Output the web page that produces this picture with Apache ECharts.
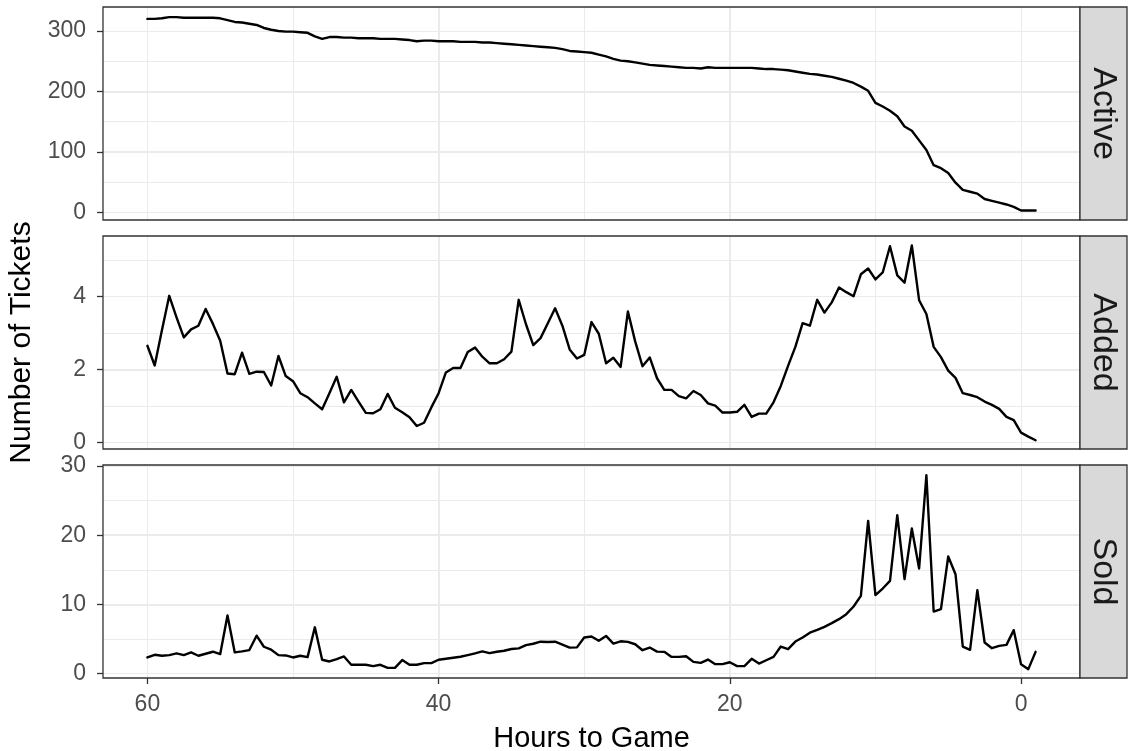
<!DOCTYPE html>
<html>
<head>
<meta charset="utf-8">
<title>Tickets by hours to game</title>
<script src="https://cdn.jsdelivr.net/npm/echarts@6.0.0/dist/echarts.min.js"></script>
<style>
  html, body { margin: 0; padding: 0; background: #ffffff; }
  #chart { width: 1129px; height: 751px; }
</style>
</head>
<body>
<div id="chart"></div>
<script>
// Half-hour snapshots, counted down to kick-off (negative = after start)
const hours = [
  60, 59.5, 59, 58.5, 58, 57.5, 57, 56.5, 56, 55.5,
  55, 54.5, 54, 53.5, 53, 52.5, 52, 51.5, 51, 50.5,
  50, 49.5, 49, 48.5, 48, 47.5, 47, 46.5, 46, 45.5,
  45, 44.5, 44, 43.5, 43, 42.5, 42, 41.5, 41, 40.5,
  40, 39.5, 39, 38.5, 38, 37.5, 37, 36.5, 36, 35.5,
  35, 34.5, 34, 33.5, 33, 32.5, 32, 31.5, 31, 30.5,
  30, 29.5, 29, 28.5, 28, 27.5, 27, 26.5, 26, 25.5,
  25, 24.5, 24, 23.5, 23, 22.5, 22, 21.5, 21, 20.5,
  20, 19.5, 19, 18.5, 18, 17.5, 17, 16.5, 16, 15.5,
  15, 14.5, 14, 13.5, 13, 12.5, 12, 11.5, 11, 10.5,
  10, 9.5, 9, 8.5, 8, 7.5, 7, 6.5, 6, 5.5,
  5, 4.5, 4, 3.5, 3, 2.5, 2, 1.5, 1, 0.5,
  0, -0.5, -1
];

// Tickets listed at each snapshot
const active = [
  320, 320, 321, 323, 323, 322, 322, 322, 322, 322,
  321, 318, 315, 314, 312, 310, 305, 302, 300, 299,
  299, 298, 297, 291, 287, 290, 290, 289, 289, 288,
  288, 288, 287, 287, 287, 286, 285, 283, 284, 284,
  283, 283, 283, 282, 282, 282, 281, 281, 280, 279,
  278, 277, 276, 275, 274, 273, 272, 270, 267, 266,
  265, 264, 261, 258, 254, 251, 250, 248, 246, 244,
  243, 242, 241, 240, 239, 239, 238, 240, 239, 239,
  239, 239, 239, 239, 238, 237, 237, 236, 235, 233,
  231, 229, 228, 226, 224, 221, 218, 214, 208, 201,
  181, 175, 168, 159, 142, 135, 119, 103, 78, 73,
  65, 49, 37, 34, 31, 22, 19, 16, 13, 9,
  3, 3, 3
];

// Newly listed tickets
const added = [
  2.65, 2.11, 3.08, 4.02, 3.43, 2.88, 3.10, 3.20, 3.66, 3.25,
  2.79, 1.89, 1.87, 2.46, 1.88, 1.94, 1.93, 1.56, 2.37, 1.82,
  1.68, 1.35, 1.24, 1.07, 0.91, 1.35, 1.80, 1.10, 1.44, 1.12,
  0.81, 0.80, 0.91, 1.33, 0.95, 0.83, 0.69, 0.45, 0.54, 0.96,
  1.35, 1.92, 2.04, 2.04, 2.48, 2.60, 2.35, 2.17, 2.17, 2.28,
  2.49, 3.91, 3.24, 2.67, 2.86, 3.27, 3.68, 3.20, 2.55, 2.30,
  2.40, 3.30, 2.98, 2.17, 2.32, 2.07, 3.59, 2.77, 2.09, 2.33,
  1.76, 1.44, 1.44, 1.27, 1.21, 1.41, 1.30, 1.07, 1.01, 0.82,
  0.82, 0.84, 1.03, 0.70, 0.79, 0.79, 1.10, 1.55, 2.10, 2.62,
  3.27, 3.20, 3.91, 3.56, 3.84, 4.25, 4.12, 4.01, 4.61, 4.77,
  4.47, 4.66, 5.38, 4.58, 4.38, 5.40, 3.90, 3.52, 2.62, 2.34,
  1.97, 1.77, 1.35, 1.30, 1.24, 1.12, 1.03, 0.92, 0.70, 0.61,
  0.27, 0.16, 0.06
];

// Tickets sold
const sold = [
  2.32, 2.71, 2.57, 2.66, 2.91, 2.66, 3.05, 2.57, 2.86, 3.15,
  2.81, 8.38, 3.05, 3.20, 3.39, 5.47, 3.87, 3.44, 2.66, 2.61,
  2.32, 2.57, 2.37, 6.68, 1.99, 1.74, 2.08, 2.47, 1.26, 1.26,
  1.26, 1.07, 1.26, 0.82, 0.82, 1.94, 1.26, 1.26, 1.50, 1.50,
  1.99, 2.13, 2.28, 2.42, 2.66, 2.91, 3.20, 2.95, 3.15, 3.29,
  3.54, 3.63, 4.10, 4.30, 4.60, 4.55, 4.60, 4.18, 3.74, 3.78,
  5.20, 5.35, 4.73, 5.43, 4.33, 4.66, 4.57, 4.23, 3.37, 3.75,
  3.17, 3.13, 2.40, 2.40, 2.50, 1.68, 1.54, 2.02, 1.35, 1.35,
  1.63, 1.06, 1.06, 2.12, 1.44, 1.92, 2.40, 3.90, 3.52, 4.62,
  5.20, 5.90, 6.30, 6.75, 7.28, 7.86, 8.58, 9.69, 11.23, 22.07,
  11.33, 12.29, 13.40, 22.89, 13.64, 20.96, 15.18, 28.67, 8.96, 9.30,
  16.92, 14.36, 3.90, 3.42, 12.05, 4.48, 3.66, 4.00, 4.14, 6.27,
  1.35, 0.63, 3.13
];

// Tick labels
const hourTicks = [0, 20, 40, 60];
const activeTicks = [0, 100, 200, 300];
const addedTicks = [0, 2, 4];
const soldTicks = [0, 10, 20, 30];

const facetNames = ['Active', 'Added', 'Sold'];

// Panel layout and scale ranges (padded like ggplot's default expansion)
const panels = [
  { name: facetNames[0], values: active, ticks: activeTicks, step: 100, min: -12.7, max: 339.7 },
  { name: facetNames[1], values: added,  ticks: addedTicks,  step: 2,   min: -0.18, max: 5.66 },
  { name: facetNames[2], values: sold,   ticks: soldTicks,   step: 10,  min: -0.65, max: 30.15 }
];
const PANEL_LEFT = 103, PANEL_RIGHT = 1080, PANEL_H = 213;
const panelTops = [7, 236, 465];
const STRIP_W = 47;
const X_MIN = -4.05, X_MAX = 63.05, X_STEP = 20;

const GRID_COLOR = '#EBEBEB';
const BORDER_COLOR = '#333333';
const TICK_TEXT = '#4D4D4D';
const FONT = '"Liberation Sans", Arial, "DejaVu Sans", sans-serif';

const chart = echarts.init(document.getElementById('chart'), null, { renderer: 'canvas' });

const grids = [], xAxes = [], yAxes = [], series = [], graphics = [];

// gridline-only axis: fixed step, no line/ticks/labels, edges hidden
function gridAxis(k, min, max, step, width, extra) {
  return Object.assign({
    type: 'value', gridIndex: k, min: min, max: max,
    minInterval: step, maxInterval: step, splitNumber: 8,
    axisLine: { show: false, onZero: false },
    axisTick: { show: false },
    axisLabel: { show: false },
    splitLine: { show: true, showMinLine: false, showMaxLine: false, lineStyle: { color: GRID_COLOR, width: width } }
  }, extra || {});
}

panels.forEach((p, k) => {
  const top = panelTops[k];
  const isBottom = k === panels.length - 1;
  grids.push({ left: PANEL_LEFT, width: PANEL_RIGHT - PANEL_LEFT, top: top, height: PANEL_H, containLabel: false });

  // x: major axis carries the ticks/labels, a second axis adds the minor lines
  xAxes.push({
    type: 'value', gridIndex: k, inverse: true, min: X_MIN, max: X_MAX, position: 'bottom',
    minInterval: X_STEP, maxInterval: X_STEP,
    axisLine: { show: false, onZero: false },
    axisTick: { show: isBottom, customValues: hourTicks, length: 6, lineStyle: { color: BORDER_COLOR, width: 1.3 } },
    axisLabel: { show: isBottom, customValues: hourTicks, color: TICK_TEXT, fontSize: 23, fontFamily: FONT, margin: 15 },
    splitLine: { show: true, showMinLine: false, showMaxLine: false, lineStyle: { color: GRID_COLOR, width: 2 } }
  });
  xAxes.push(gridAxis(k, X_MIN, X_MAX, X_STEP / 2, 1, { inverse: true, position: 'top' }));

  yAxes.push({
    type: 'value', gridIndex: k, min: p.min, max: p.max, position: 'left',
    minInterval: p.step, maxInterval: p.step,
    axisLine: { show: false, onZero: false },
    axisTick: { show: true, customValues: p.ticks, length: 6, lineStyle: { color: BORDER_COLOR, width: 1.3 } },
    axisLabel: { show: true, customValues: p.ticks, color: TICK_TEXT, fontSize: 23, fontFamily: FONT, margin: 17 },
    splitLine: { show: true, showMinLine: false, showMaxLine: false, lineStyle: { color: GRID_COLOR, width: 2 } }
  });
  yAxes.push(gridAxis(k, p.min, p.max, p.step / 2, 1, { position: 'right' }));

  series.push({
    name: p.name, type: 'line', xAxisIndex: 2 * k, yAxisIndex: 2 * k,
    data: hours.map((h, i) => [h, p.values[i]]),
    showSymbol: false, symbol: 'none', silent: true,
    lineStyle: { color: '#000000', width: 2.4, join: 'round', cap: 'round' },
    clip: true
  });

  // panel border
  graphics.push({
    type: 'rect', silent: true, z: 100,
    shape: { x: PANEL_LEFT, y: top, width: PANEL_RIGHT - PANEL_LEFT, height: PANEL_H },
    style: { fill: null, stroke: BORDER_COLOR, lineWidth: 1.3 }
  });
  // facet strip
  graphics.push({
    type: 'rect', silent: true, z: 100,
    shape: { x: PANEL_RIGHT, y: top, width: STRIP_W, height: PANEL_H },
    style: { fill: '#D9D9D9', stroke: BORDER_COLOR, lineWidth: 1.3 }
  });
  graphics.push({
    type: 'text', silent: true, z: 101,
    x: PANEL_RIGHT + STRIP_W / 2, y: top + PANEL_H / 2, rotation: -Math.PI / 2,
    style: {
      text: p.name, fill: '#1A1A1A', font: '34px ' + FONT,
      align: 'center', verticalAlign: 'middle', textAlign: 'center', textVerticalAlign: 'middle'
    }
  });
});

// axis titles
graphics.push({
  type: 'text', silent: true, z: 101,
  x: 22, y: (panelTops[0] + panelTops[2] + PANEL_H) / 2, rotation: Math.PI / 2,
  style: {
    text: 'Number of Tickets', fill: '#000000', font: '30px ' + FONT,
    align: 'center', verticalAlign: 'middle', textAlign: 'center', textVerticalAlign: 'middle'
  }
});
graphics.push({
  type: 'text', silent: true, z: 101,
  x: (PANEL_LEFT + PANEL_RIGHT) / 2, y: 739,
  style: {
    text: 'Hours to Game', fill: '#000000', font: '29px ' + FONT,
    align: 'center', verticalAlign: 'middle', textAlign: 'center', textVerticalAlign: 'middle'
  }
});

chart.setOption({
  animation: false,
  backgroundColor: '#ffffff',
  grid: grids,
  xAxis: xAxes,
  yAxis: yAxes,
  series: series,
  graphic: graphics
});
</script>
</body>
</html>
